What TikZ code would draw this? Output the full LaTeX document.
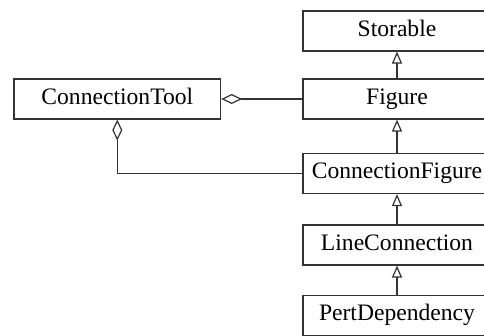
\documentclass[tikz,border=0pt]{standalone}
\usepackage{fontspec}
\setmainfont{Liberation Serif}
\usetikzlibrary{arrows.meta}
\begin{document}
\begin{tikzpicture}[x=0.5pt,y=-0.5pt,
  cls/.style={draw=black!80, line width=0.6pt, minimum width=94pt, minimum height=20pt,
    inner sep=0pt, font=\fontsize{11.8}{13}\selectfont, text height=8pt, text depth=2.5pt},
  inherit/.style={draw=black!80, line width=0.6pt,
    -{Triangle[open, length=6pt, width=5pt]}},
  agg/.style={draw=black!80, line width=0.6pt,
    -{Diamond[open, length=10.5pt, width=5pt]}}]
  \clip (0,0) rectangle (484,336);
  % class boxes
  \node[cls] (storable) at (397,31)    {Storable};
  \node[cls] (figure)   at (397,99)    {Figure};
  \node[cls] (cfig)     at (397,173.5) {ConnectionFigure};
  \node[cls] (lconn)    at (397,245)   {LineConnection};
  \node[cls] (pert)     at (397,315.5) {PertDependency};
  \node[cls, minimum width=103.3pt] (tool) at (117.3,99) {ConnectionTool};
  % generalisation
  \draw[inherit] (figure) -- (storable);
  \draw[inherit] (cfig) -- (figure);
  \draw[inherit] (lconn) -- (cfig);
  \draw[inherit] (pert) -- (lconn);
  % aggregation
  \draw[agg] (figure.west) -- (tool.east);
  \draw[agg] (cfig.west) -| (tool.south);
\end{tikzpicture}
\end{document}
